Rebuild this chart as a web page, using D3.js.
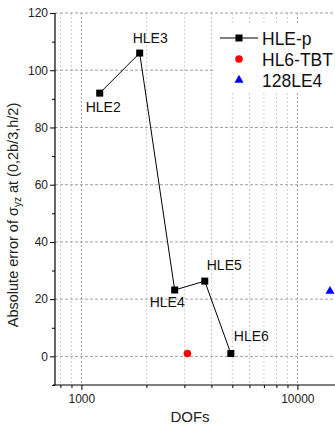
<!DOCTYPE html>
<html>
<head>
    <meta charset="utf-8">
    <title>DOFs vs error</title>
    <script src="https://d3js.org/d3.v7.min.js"></script>
    <style>
        body { margin: 0; background: #fff; }
        svg { font-family: 'Liberation Sans', Arial, sans-serif; }
    </style>
</head>
<body>
<div id="chart"></div>
<script>
    // data
    const hleNames = ['HLE2', 'HLE3', 'HLE4', 'HLE5', 'HLE6'];
    const hleDofs = [1216, 1862, 2704, 3726, 4921];
    const hleErr = [92, 106, 23.2, 26.3, 1.0];
    const tbtDofs = [3097];
    const tbtErr = [1.0];
    const le4Dofs = [14160];
    const le4Err = [22.8];
    const legendNames = ['HLE-p', 'HL6-TBT', '128LE4'];
    const yTicks = [0, 20, 40, 60, 80, 100, 120];
    const xTickLabels = [1000, 10000];

    const width = 335, height = 424;
    const plotLeft = 55, plotTop = 13, plotBottom = 385;

    const svg = d3.select('#chart').append('svg')
        .attr('width', width)
        .attr('height', height);

    const x = d3.scaleLog().domain([755, 20000]).range([plotLeft, plotLeft + 216 * Math.log10(20000 / 755)]);
    const y = d3.scaleLinear().domain([-10, 120]).range([plotBottom, plotTop]);

    // minor + major x gridlines
    const minorX = [];
    for (let d = 100; d <= 10000; d *= 10) {
        for (let k = 2; k <= 9; k++) {
            const v = k * d;
            if (v > 755 && v < 20000) minorX.push(v);
        }
    }
    svg.append('g').selectAll('line').data(minorX).join('line')
        .attr('x1', d => x(d)).attr('x2', d => x(d))
        .attr('y1', plotTop).attr('y2', plotBottom)
        .attr('stroke', '#cfcfcf').attr('stroke-width', 1)
        .attr('stroke-dasharray', '2,2');
    svg.append('g').selectAll('line').data(xTickLabels).join('line')
        .attr('x1', d => x(d)).attr('x2', d => x(d))
        .attr('y1', plotTop).attr('y2', plotBottom)
        .attr('stroke', '#a0a0a0').attr('stroke-width', 1)
        .attr('stroke-dasharray', '2,2');

    // y gridlines
    svg.append('g').selectAll('line').data(yTicks).join('line')
        .attr('x1', plotLeft).attr('x2', width)
        .attr('y1', d => y(d)).attr('y2', d => y(d))
        .attr('stroke', '#a0a0a0').attr('stroke-width', 1)
        .attr('stroke-dasharray', '3,2');

    // axes
    const yAxis = d3.axisLeft(y).tickValues(d3.range(-10, 121, 10))
        .tickSize(5)
        .tickFormat(d => yTicks.includes(d) ? d : '');
    const gy = svg.append('g').attr('transform', `translate(${plotLeft},0)`).call(yAxis);
    gy.selectAll('.tick line').attr('x2', d => yTicks.includes(d) ? -5 : -3);
    gy.select('.domain').attr('d', `M0,${plotTop}V${plotBottom}`).attr('stroke-width', 1.2);
    gy.selectAll('text').style('font-size', '12px').attr('fill', '#222').attr('x', -7);

    const xAxis = d3.axisBottom(x).tickValues([...minorX, ...xTickLabels])
        .tickSize(4)
        .tickFormat(d => xTickLabels.includes(d) ? d : '');
    const gx = svg.append('g').attr('transform', `translate(0,${plotBottom})`).call(xAxis);
    gx.selectAll('.tick line').attr('y2', d => xTickLabels.includes(d) ? 5 : 3);
    gx.select('.domain').attr('d', `M${plotLeft - 2},0H${width}`).attr('stroke-width', 1.2);
    gx.selectAll('text').style('font-size', '12px').attr('fill', '#222').attr('y', 9);

    // axis titles
    svg.append('text')
        .attr('x', 190).attr('y', 422)
        .attr('text-anchor', 'middle')
        .style('font-size', '15px').attr('fill', '#222')
        .text('DOFs');

    const yl = svg.append('text')
        .attr('transform', 'translate(18,215) rotate(-90)')
        .attr('text-anchor', 'middle')
        .style('font-size', '14.5px').attr('fill', '#222');
    yl.append('tspan').text('Absolute error of σ');
    yl.append('tspan').attr('dy', 3).style('font-size', '10px').text('yz');
    yl.append('tspan').attr('dy', -3).text(' at (0,2b/3,h/2)');

    // HLE-p series
    const pts = hleDofs.map((d, i) => ({ dof: d, err: hleErr[i], name: hleNames[i] }));
    svg.append('path').datum(pts)
        .attr('fill', 'none').attr('stroke', '#000').attr('stroke-width', 1)
        .attr('d', d3.line().x(d => x(d.dof)).y(d => y(d.err)));
    svg.append('g').selectAll('rect').data(pts).join('rect')
        .attr('x', d => x(d.dof) - 3.5).attr('y', d => y(d.err) - 3.5)
        .attr('width', 7).attr('height', 7).attr('fill', '#000');

    // point labels
    const labelOff = {
        HLE2: [-14, 18.5], HLE3: [-7, -10], HLE4: [-25, 17], HLE5: [2, -11], HLE6: [3, -12.5]
    };
    svg.append('g').selectAll('text').data(pts).join('text')
        .attr('x', d => x(d.dof) + labelOff[d.name][0])
        .attr('y', d => y(d.err) + labelOff[d.name][1])
        .style('font-size', '14px').attr('fill', '#111')
        .text(d => d.name);

    // HL6-TBT
    svg.append('g').selectAll('circle').data(tbtDofs).join('circle')
        .attr('cx', d => x(d)).attr('cy', (d, i) => y(tbtErr[i]))
        .attr('r', 3.8).attr('fill', '#ff0000');

    // 128LE4
    const tri = d3.symbol().type(d3.symbolTriangle).size(36);
    svg.append('g').selectAll('path').data(le4Dofs).join('path')
        .attr('transform', (d, i) => `translate(${x(d)},${y(le4Err[i])})`)
        .attr('d', tri).attr('fill', '#0000ff');

    // legend
    const lg = svg.append('g');
    lg.append('rect').attr('x', 214).attr('y', 24).attr('width', 125).attr('height', 68)
        .attr('fill', '#fff');
    const ly = [38, 59, 80];
    lg.append('line').attr('x1', 220).attr('x2', 258).attr('y1', ly[0]).attr('y2', ly[0])
        .attr('stroke', '#000').attr('stroke-width', 1);
    lg.append('rect').attr('x', 235.5).attr('y', ly[0] - 3.5).attr('width', 7).attr('height', 7)
        .attr('fill', '#000');
    lg.append('circle').attr('cx', 239).attr('cy', ly[1]).attr('r', 3.8).attr('fill', '#ff0000');
    lg.append('path').attr('transform', `translate(239,${ly[2]})`).attr('d', tri).attr('fill', '#0000ff');
    lg.selectAll('text.leg').data(legendNames).join('text')
        .attr('class', 'leg')
        .attr('x', 262).attr('y', (d, i) => ly[i] + 6.5)
        .style('font-size', '17.5px').attr('fill', '#111')
        .text(d => d);
</script>
</body>
</html>
